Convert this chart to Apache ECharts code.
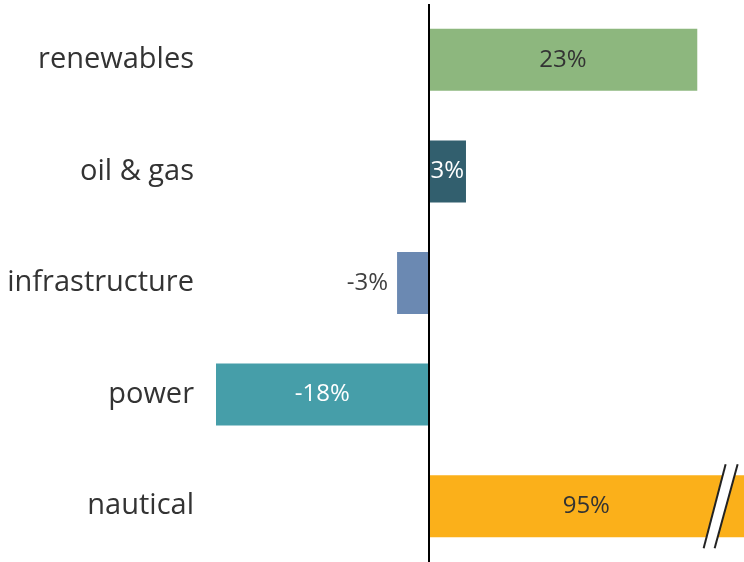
<!DOCTYPE html>
<html>
<head>
<meta charset="utf-8">
<script src="https://cdn.jsdelivr.net/npm/echarts@6/dist/echarts.min.js"></script>
<style>
html,body{margin:0;padding:0;background:#fff;}
#chart{width:744px;height:562px;}
</style>
</head>
<body>
<div id="chart"></div>
<script>
const categories = ['renewables', 'oil & gas', 'infrastructure', 'power', 'nautical'];
const values = [23, 3.2, -2.7, -18.2, 95];
const valueLabels = ['23%', '3%', '-3%', '-18%', '95%'];
const barColors = ['#8db77e', '#325f6e', '#6b89b2', '#469ea9', '#fbb01a'];
const labelColors = ['#333333', '#ffffff', '#404040', '#ffffff', '#333333'];
const axisMin = -18.2;
const axisMax = 27;
const breakCategory = 'nautical';
const breakValue = 25;

const chart = echarts.init(document.getElementById('chart'));
const font = '"Open Sans", "Noto Sans", sans-serif';

const barData = values.map((v, i) => {
  const outside = Math.abs(v) < 3 && v < 0;
  return {
    value: v,
    itemStyle: { color: barColors[i] },
    label: {
      show: true,
      position: outside ? 'left' : 'inside',
      distance: 9,
      formatter: valueLabels[i],
      color: labelColors[i]
    }
  };
});

chart.setOption({
  animation: false,
  grid: { left: 216, right: 0, top: 4, bottom: -2 },
  xAxis: {
    type: 'value', min: axisMin, max: axisMax,
    show: false
  },
  yAxis: {
    type: 'category', data: categories, inverse: true,
    axisLine: { show: false }, axisTick: { show: false },
    axisLabel: { fontSize: 29, color: '#333333', fontFamily: font, margin: 22 }
  },
  series: [
    {
      type: 'bar',
      data: barData,
      barWidth: 62,
      clip: true,
      label: { fontSize: 24, fontFamily: font },
      markLine: {
        silent: true, symbol: 'none',
        label: { show: false },
        lineStyle: { color: '#000', width: 2, type: 'solid' },
        data: [{ xAxis: 0 }]
      }
    },
    {
      type: 'custom',
      silent: true,
      clip: false,
      z: 10,
      data: [[breakValue, breakCategory]],
      renderItem: function (params, api) {
        const c = api.coord([api.value(0), api.value(1)]);
        const x = c[0], y = c[1];
        const h = 42;
        const p1t = [x + 5, y - h], p1b = [x - 17, y + h];
        const p2t = [x + 17, y - h], p2b = [x - 6, y + h];
        return {
          type: 'group',
          children: [
            { type: 'polygon', shape: { points: [p1t, p2t, p2b, p1b] }, style: { fill: '#ffffff' } },
            { type: 'line', shape: { x1: p1t[0], y1: p1t[1], x2: p1b[0], y2: p1b[1] }, style: { stroke: '#222', lineWidth: 2 } },
            { type: 'line', shape: { x1: p2t[0], y1: p2t[1], x2: p2b[0], y2: p2b[1] }, style: { stroke: '#222', lineWidth: 2 } }
          ]
        };
      }
    }
  ]
});
</script>
</body>
</html>
